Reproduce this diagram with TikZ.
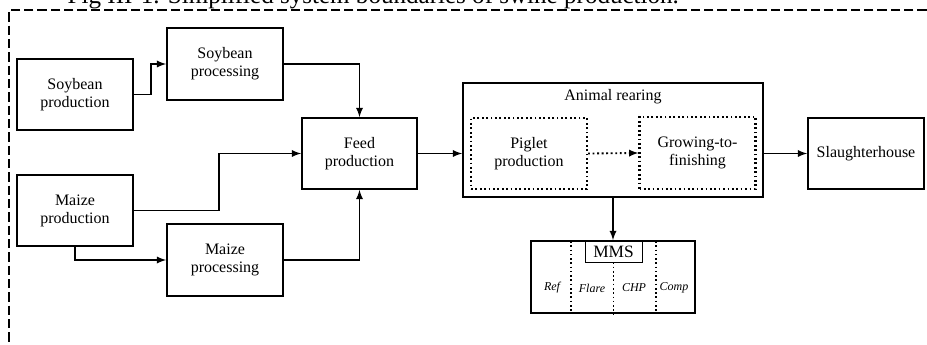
\documentclass[tikz,border=0pt]{standalone}
\usepackage{fontspec}
\setmainfont{Liberation Serif}
\usepackage{tikz}
\usetikzlibrary{arrows,calc}

\tikzset{
  box/.style={draw, line width=1.3pt, minimum width=87pt, minimum height=53.25pt,
    align=center, font=\fontsize{12}{13.5}\selectfont},
  dotbox/.style={box, dotted, line width=1.6pt},
  flow/.style={->, >=latex, line width=1.4pt},
  tech/.style={font=\fontsize{9}{11}\selectfont\itshape}
}

\begin{document}
\begin{tikzpicture}[x=0.75pt, y=-0.75pt]
    \clip (0, 0) rectangle (927, 345);

    \node [anchor=base west, font=\fontsize{18.8}{22}\selectfont] (title) at (63, 3.5)
      {Fig III-1. Simplified system boundaries of swine production.};
    \draw [line width=1.1pt, dash pattern=on 7pt off 3pt] (940, 10) -- (9, 10) -- (9, 360);

    \node [box] (soyprod) at (75, 94.5) {Soybean\\production};
    \node [box, minimum height=54pt] (soyproc) at (225, 64) {Soybean\\processing};
    \node [box] (maizeprod) at (75, 210.5) {Maize\\production};
    \node [box, minimum height=54pt] (maizeproc) at (225, 260) {Maize\\processing};
    \node [box, minimum width=86.25pt] (feed) at (359.5, 153.5) {Feed\\production};

    \node [box, minimum width=225pt, minimum height=85.5pt] (animal) at (613, 140) {};
    \node [font=\fontsize{12}{13.5}\selectfont] (rearing) at (613, 97) {Animal rearing};
    \node [dotbox] (piglet) at (529, 153.5) {Piglet\\production};
    \node [dotbox, minimum height=54pt] (grow) at (697.5, 153) {Growing-to-\\finishing};
    \node [box] (slaughter) at (866, 153.5) {Slaughterhouse};

    \node [box, minimum width=123pt, minimum height=54pt] (mms) at (613, 277) {};
    \node [draw, line width=0.6pt, minimum width=42.75pt, minimum height=15.75pt, inner sep=0pt,
      font=\fontsize{13}{15}\selectfont] (mmslabel) at (613.5, 251.5) {MMS};
    \draw [dotted, line width=1.2pt] (571, 241) -- (571, 313);
    \draw [dotted, line width=1.2pt] (mmslabel.south) -- (mmslabel.south |- mms.south);
    \draw [dotted, line width=1.2pt] (656, 241) -- (656, 313);
    \node [tech] (ref) at (552, 288) {Ref};
    \node [tech] (flare) at (592, 288) {Flare};
    \node [tech] (chp) at (634, 288) {CHP};
    \node [tech] (comp) at (674, 288) {Comp};

    \draw [flow] (soyprod.east) -- ++(17, 0) |- (soyproc.west);
    \draw [flow] (maizeprod.east) -- ++(85, 0) |- (feed.west);
    \draw [flow] (maizeprod.south) |- (maizeproc.west);
    \draw [flow] (soyproc.east) -| (feed.north);
    \draw [flow] (maizeproc.east) -| (feed.south);
    \draw [flow] (feed.east) -- (feed.east -| animal.west);
    \draw [flow, dotted] (piglet.east) -- (grow.west);
    \draw [flow] (animal.east |- slaughter.west) -- (slaughter.west);
    \draw [flow] (animal.south) -- (mms.north);
  \end{tikzpicture}
\end{document}
